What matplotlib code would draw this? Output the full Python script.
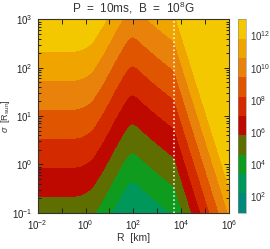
import matplotlib
matplotlib.use('Agg')
import matplotlib.pyplot as plt
import numpy as np
from matplotlib.colors import ListedColormap
from matplotlib.ticker import FixedLocator, FuncFormatter, LogLocator, NullFormatter

plt.rcParams['font.family'] = ['Liberation Sans', 'DejaVu Sans']
plt.rcParams['mathtext.fontset'] = 'custom'
plt.rcParams['mathtext.rm'] = 'Liberation Sans'
plt.rcParams['mathtext.it'] = 'Liberation Sans:italic'
plt.rcParams['mathtext.bf'] = 'Liberation Sans:bold'

# profil log R -> correction
log_r_nodes = [-2.0, -1.0, -0.5, -0.25, 0.0, 0.25, 0.5, 0.75, 1.0, 1.25, 1.5, 1.65, 1.8, 1.93,
               2.05, 2.2, 2.5, 3.0, 3.5, 3.71, 4.0, 5.0, 6.0]
f_nodes = [0.0, 0.0, -0.01, -0.06, -0.17, -0.34, -0.72, -1.13, -1.58, -2.05, -2.48, -2.74, -2.93, -3.02,
           -3.0, -2.9, -2.62, -2.19, -1.79, -1.63, -0.72, 2.42, 5.56]
sigma_slope = 2.0      # pente en log sigma
q_offset = 7.14        # log Q a sigma = 1, R petit
r_dotted = 5.1e3       # ligne pointillee

levels = [1.0, 2.2, 3.4, 4.6, 5.8, 7.0, 8.2, 9.4, 10.6, 11.8, 13.0]
colors = ['#00887A', '#00985A', '#0E9B1E', '#5F6E00', '#BE0900',
          '#D42A00', '#DF5500', '#E8820A', '#F0A400', '#F4C800']
cbar_ticks = [2, 4, 6, 8, 10, 12]

log_r = np.linspace(-2, 6, 500)
log_s = np.linspace(-1, 3, 400)
LR, LS = np.meshgrid(log_r, log_s)
Z = sigma_slope * LS + q_offset + np.interp(LR, log_r_nodes, f_nodes)
Z = np.clip(Z, 1.001, 12.999)

fig = plt.figure(figsize=(2.7, 2.49), dpi=100)
ax = fig.add_axes([0.1396, 0.1458, 0.7085, 0.7767])
cax = fig.add_axes([0.8815, 0.1458, 0.0296, 0.7767])

cs = ax.contourf(10**LR, 10**LS, Z, levels=levels, cmap=ListedColormap(colors))
ax.axvline(r_dotted, color='white', ls=':', lw=1.1)

ax.set_xscale('log')
ax.set_yscale('log')
ax.set_xlim(1e-2, 1e6)
ax.set_ylim(1e-1, 1e3)

ax.xaxis.set_major_locator(FixedLocator([10.0**k for k in range(-2, 7)]))
ax.xaxis.set_major_formatter(FuncFormatter(
    lambda v, p: r'$10^{%d}$' % round(np.log10(v)) if round(np.log10(v)) % 2 == 0 else ''))
ax.xaxis.set_minor_locator(FixedLocator([]))
ax.yaxis.set_major_locator(FixedLocator([10.0**k for k in range(-1, 4)]))
ax.yaxis.set_major_formatter(FuncFormatter(lambda v, p: r'$10^{%d}$' % round(np.log10(v))))
ax.yaxis.set_minor_locator(LogLocator(base=10, subs=np.arange(2, 10)))
ax.yaxis.set_minor_formatter(NullFormatter())

ax.tick_params(which='both', direction='in', top=True, right=True, labelsize=7,
               width=0.7, colors='#222222')
ax.tick_params(which='major', length=3.5)
ax.tick_params(which='minor', length=2)
ax.tick_params(axis='x', pad=4)
for s in ax.spines.values():
    s.set_linewidth(0.8)
    s.set_color('#333333')

ax.set_title(r'P  =  10ms,  B  =  10$^8$G', fontsize=8.5, pad=5, color='#333333')
ax.set_xlabel('R  [km]', fontsize=7.5, labelpad=1, color='#333333')
ax.set_ylabel(r'$\sigma$  [R$_{\rm sun}$]', fontsize=6.5, labelpad=0, color='#333333')

cb = fig.colorbar(cs, cax=cax)
cb.set_ticks(cbar_ticks)
cb.set_ticklabels([r'$10^{%d}$' % t for t in cbar_ticks])
cb.ax.tick_params(length=0, labelsize=7, pad=3, colors='#333333')
cb.outline.set_linewidth(0.4)
cb.outline.set_edgecolor('#888888')

fig.savefig('out.png', dpi=100)
